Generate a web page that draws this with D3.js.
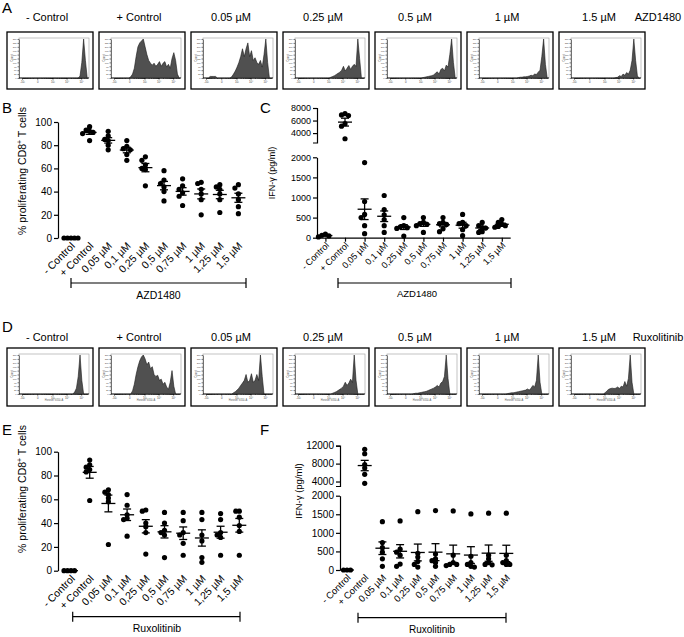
<!DOCTYPE html>
<html><head><meta charset="utf-8">
<script src="https://cdn.jsdelivr.net/npm/d3@7"></script>
<style>
body{margin:0;background:#fff}
svg{display:block}
text{font-family:"Liberation Sans",Arial,Helvetica,sans-serif;fill:#000}
</style>
</head><body>
<svg id="fig" width="684" height="637"></svg>
<script>
// ---------------- DATA ----------------
const histTitles = ["- Control","+ Control","0.05 µM","0.25 µM","0.5 µM","1 µM","1.5 µM"];
// histogram heights (% of max count), 40 samples across the CellTrace axis
const histAZD = [
 [0,0,0,0,0,0,0,0,0,0, 0,0,0,0,0,0,0,0,0,0, 0,0,0,0,0,0,0,0,0,0, 0,0,0,0,5,40,100,45,0,0],
 [0,0,0,0,0,0,0,0,0,0, 0,3,10,25,55,80,90,95,100,80, 60,45,38,33,38,30,35,42,30,38, 42,28,35,25,50,65,45,10,0,0],
 [0,0,0,0,4,4,4,4,0,0, 0,0,0,0,0,0,3,10,18,28, 40,55,75,55,75,90,55,70,45,52, 40,35,45,28,60,100,40,0,0,0],
 [0,0,0,0,0,0,0,0,0,0, 0,0,0,0,0,0,0,0,0,0, 2,4,6,9,12,15,20,30,18,25, 32,22,30,35,30,100,50,0,0,0],
 [0,0,0,0,0,0,0,0,0,0, 0,0,0,0,0,0,0,0,0,0, 1,2,3,4,5,6,8,12,16,10, 22,25,18,33,28,60,100,40,0,0],
 [0,0,0,0,0,0,0,0,0,0, 0,0,0,0,0,0,0,0,0,0, 0,0,1,2,2,3,3,4,5,7, 6,10,9,15,20,55,100,35,0,0],
 [0,0,0,0,0,0,0,0,0,0, 0,0,0,0,0,0,0,0,0,0, 0,0,0,0,0,1,2,6,4,10, 7,14,10,20,45,100,45,5,0,0]
];
const histRux = [
 [0,0,0,0,0,0,0,0,0,0, 0,0,0,0,0,0,0,0,0,0, 0,0,0,0,0,0,0,0,0,0, 0,5,15,45,100,35,0,0,0,0],
 [0,0,0,0,0,0,0,0,0,0, 0,0,8,25,50,70,85,95,100,90, 75,82,65,70,50,45,48,35,38,25, 30,18,12,30,60,20,0,0,0,0],
 [0,0,0,0,0,0,0,0,0,0, 0,0,0,0,0,0,0,3,6,10, 15,22,28,35,50,30,35,52,30,35, 50,35,100,45,0,0,0,0,0,0],
 [0,0,0,0,0,0,0,0,0,0, 0,0,0,0,0,0,0,0,0,0, 0,2,4,6,9,12,15,20,30,22, 28,38,30,100,35,0,0,0,0,0],
 [0,0,0,0,0,0,0,0,0,0, 0,0,0,0,0,1,2,2,3,4, 5,6,7,9,11,13,15,18,22,18, 28,32,45,100,40,0,0,0,0,0],
 [0,0,0,0,0,0,0,0,0,0, 0,0,0,0,0,0,1,2,3,3, 4,5,6,7,8,9,10,13,10,15, 22,18,35,100,30,0,0,0,0,0],
 [0,0,0,0,0,0,0,0,0,0, 0,0,0,0,0,0,0,0,0,3, 8,12,14,15,14,15,18,14,20,18, 32,20,40,100,30,0,0,0,0,0]
];
const categories = ["- Control","+ Control","0,05 µM","0,1 µM","0,25 µM","0,5 µM","0,75 µM","1 µM","1,25 µM","1,5 µM"];
const azdProlif = [
 [0,0,0,0,0],
 [96,93,92,91,90,84],
 [92,88,85,84,80,76],
 [84,79,77,76,72,67],
 [70,67,63,60,59,45],
 [58,50,47,44,40,32],
 [51,45,42,39,36,28],
 [48,47,42,38,33,20],
 [46,44,42,38,33,22],
 [46,43,38,33,27,21]
];
const azdIFN = [
 [90,60,45,20],
 [7100,6900,6800,5500,5100,3100],
 [1870,900,580,500,300,100],
 [1050,700,570,450,300,130],
 [500,300,270,250,230,40],
 [500,380,350,330,300,130],
 [500,380,350,330,220,150],
 [580,380,350,300,200,50],
 [380,300,250,240,150,130],
 [450,380,330,300,280,260]
];
const ruxProlif = [
 [0,0,0,0],
 [93,89,87,85,83,59],
 [68,66,64,61,58,22],
 [64,55,47,44,43,29],
 [51,50,40,37,32,14],
 [49,40,34,32,30,11],
 [49,42,32,30,23,13],
 [49,43,30,25,11,7],
 [48,43,32,30,28,13],
 [50,50,45,38,33,13]
];
const ruxIFN = [
 [0,0,0],
 [11200,10200,7800,7000,5600,3600],
 [1300,740,600,480,300,100],
 [1320,560,480,400,160,100],
 [1570,450,350,230,150,80],
 [1600,430,300,250,200,100],
 [1590,400,200,150,150,120],
 [1510,370,200,150,100,80],
 [1530,400,300,200,150,140],
 [1530,400,250,200,150,150]
];
const prolifTicks = [0,20,40,60,80,100];
const ifnLowTicks = [0,500,1000,1500,2000];
const azdIfnHighTicks = [4000,6000,8000];
const ruxIfnHighTicks = [4000,8000,12000];

// ---------------- DRAW ----------------
const svg = d3.select("#fig");

function letter(t,x,y){ svg.append("text").attr("x",x).attr("y",y).attr("font-size",15).text(t); }
letter("A",2,13); letter("B",2,113); letter("C",260,113);
letter("D",2,332); letter("E",2,435); letter("F",260,435);

function drawHistRow(hists, drug, titleBase, boxTop, boxH, xTitle){
  const g = svg.append("g");
  hists.forEach((h,i)=>{
    const bx = 7 + i*92, by = boxTop, bw = 86;
    const L = bx+12, R = bx+82, T = by+6, B = by+46;
    g.append("text").attr("x", bx+bw/2-3).attr("y", titleBase)
      .attr("text-anchor","middle").attr("font-size",11).text(histTitles[i]);
    g.append("rect").attr("x",bx).attr("y",by).attr("width",bw).attr("height",boxH)
      .attr("fill","none").attr("stroke","#000").attr("stroke-width",1.3);
    g.append("rect").attr("x",L).attr("y",T).attr("width",R-L).attr("height",B-T)
      .attr("fill","none").attr("stroke","#aaa").attr("stroke-width",0.7);
    const hx = d3.scaleLinear().domain([0,h.length-1]).range([L,R]);
    const hy = d3.scaleLinear().domain([0,100]).range([B,T+1]);
    g.append("path").datum(h)
      .attr("d", d3.area().x((d,j)=>hx(j)).y0(B).y1(d=>hy(d)))
      .attr("fill","#505050").attr("stroke","#1a1a1a").attr("stroke-width",0.6);
    // tiny left axis
    const ya = g.append("g").attr("transform",`translate(${L},0)`)
      .call(d3.axisLeft(hy).ticks(10).tickSize(1.5).tickSizeOuter(0).tickPadding(0.8).tickFormat(d=>d*2.5));
    ya.selectAll("path,line").attr("stroke","#000").attr("stroke-width",0.5);
    ya.selectAll("text").attr("font-size",2.4).style("fill","#555");
    g.append("text").attr("transform",`translate(${bx+6},${(T+B)/2}) rotate(-90)`)
      .attr("text-anchor","middle").attr("font-size",2.6).style("fill","#555").text("Count");
    // tiny bottom axis (symlog CellTrace scale)
    const sx = d3.scaleSymlog().constant(100).domain([-1000,250000]).range([L+3,R-2]);
    const minor = [].concat(d3.range(-900,0,100), d3.range(100,1000,100), d3.range(1000,10000,1000), d3.range(10000,100000,10000), d3.range(100000,250001,50000));
    const xa = g.append("g").attr("transform",`translate(0,${B})`)
      .call(d3.axisBottom(sx).tickValues(minor).tickSize(0.9).tickSizeOuter(0).tickFormat(""));
    xa.selectAll("path,line").attr("stroke","#000").attr("stroke-width",0.5);
    const majors = [-1000,0,1000,10000,100000];
    const majLab = ["-10³","0","10³","10⁴","10⁵"];
    const xa2 = g.append("g").attr("transform",`translate(0,${B})`)
      .call(d3.axisBottom(sx).tickValues(majors).tickSize(1.8).tickPadding(0.8).tickFormat((d,k)=>majLab[k]));
    xa2.select("path").remove();
    xa2.selectAll("line").attr("stroke","#000").attr("stroke-width",0.5);
    xa2.selectAll("text").attr("font-size",2.8).style("fill","#444");
    if (xTitle){
      g.append("text").attr("x",(L+R)/2).attr("y",B+7).attr("text-anchor","middle")
        .attr("font-size",2.6).style("fill","#555").text(xTitle);
    }
  });
  g.append("text").attr("x",658).attr("y",titleBase).attr("text-anchor","middle").attr("font-size",11).text(drug);
}
drawHistRow(histAZD, "AZD1480", 21, 32, 57, null);
drawHistRow(histRux, "Ruxolitinib", 341, 348, 58, "Horizon V450-A");

function scatterPanel(o){
  const g = svg.append("g");
  const n = categories.length;
  const pad = (o.xFirst - o.axisX)/o.step;
  const axisRight = o.axisX + o.step*(n-1+2*pad);
  const xs = d3.scalePoint().domain(categories).range([o.axisX, axisRight]).padding(pad);
  const segs = o.segs.map(s=>({...s, scale:d3.scaleLinear().domain(s.domain).range(s.range)}));
  const yv = v => (segs.length>1 && v > segs[0].domain[1]) ? segs[1].scale(v) : segs[0].scale(v);
  const y0 = segs[0].scale(0);

  segs.forEach((s,k)=>{
    const ax = g.append("g").attr("transform",`translate(${o.axisX},0)`)
      .call(d3.axisLeft(s.scale).tickValues(s.ticks).tickSize(4).tickSizeOuter(k>0?4:0).tickPadding(2).tickFormat(d3.format("d")));
    ax.selectAll("path,line").attr("stroke","#000").attr("stroke-width",1.2);
    ax.selectAll("text").attr("font-size",o.tickFont).style("font-family",'"Liberation Sans",Arial,sans-serif');
  });

  if (o.xAxisLine){
    const xa = g.append("g").attr("transform",`translate(0,${y0})`)
      .call(d3.axisBottom(xs).tickSize(4).tickSizeOuter(0).tickFormat(""));
    xa.selectAll("path,line").attr("stroke","#000").attr("stroke-width",1.2);
  }

  categories.forEach(c=>{
    g.append("text").attr("transform",`translate(${xs(c)+2},${y0+6}) rotate(-45)`)
      .attr("text-anchor","end").attr("dy","0.35em").attr("font-size",o.catFont).text(c);
  });

  const r = 2.6, minD = 3.5;
  o.data.forEach((vals,i)=>{
    const cx = xs(categories[i]);
    const placed = [];
    const sorted = vals.slice().sort((a,b)=>b-a);
    sorted.forEach(v=>{
      const cy = yv(v);
      let off = 0;
      const order = [0,-1,1,-2,2,-3,3,-4,4];
      for (const m of order){
        off = m*minD;
        if (placed.every(p=>Math.hypot(p.x-off,p.y-cy) >= minD)) break;
      }
      placed.push({x:off,y:cy});
    });
    g.selectAll(null).data(placed).enter().append("circle")
      .attr("cx",p=>cx+p.x).attr("cy",p=>p.y).attr("r",r).attr("fill","#000");
    const m = d3.mean(vals);
    const sem = vals.length>1 ? d3.deviation(vals)/Math.sqrt(vals.length) : 0;
    const ln = (x1,y1,x2,y2)=>g.append("line").attr("x1",x1).attr("y1",y1).attr("x2",x2).attr("y2",y2)
      .attr("stroke","#000").attr("stroke-width",1.3);
    ln(cx-7,yv(m),cx+7,yv(m));
    if (sem>0){
      ln(cx,yv(m-sem),cx,yv(m+sem));
      ln(cx-4,yv(m+sem),cx+4,yv(m+sem));
      ln(cx-4,yv(m-sem),cx+4,yv(m-sem));
    }
  });

  const t = g.append("text").attr("transform",`translate(${o.yLabelX},${o.yLabelY}) rotate(-90)`)
    .attr("text-anchor","middle").attr("font-size",o.yLabelFont);
  o.yLabel.forEach(part=>{
    const ts = t.append("tspan").text(part.t);
    if (part.sup){ ts.attr("font-size",o.yLabelFont*0.65).attr("dy",-4); }
    else if (part.after){ ts.attr("dy",4); }
  });

  const b = o.bracket;
  const bl = (x1,y1,x2,y2)=>g.append("line").attr("x1",x1).attr("y1",y1).attr("x2",x2).attr("y2",y2)
      .attr("stroke","#000").attr("stroke-width",1.2);
  bl(b.x1,b.y,b.x2,b.y); bl(b.x1,b.y-5,b.x1,b.y+5); bl(b.x2,b.y-5,b.x2,b.y+5);
  g.append("text").attr("x",b.tx).attr("y",b.ty).attr("text-anchor","middle").attr("font-size",b.font).text(b.text);
}

const prolifLabel = [{t:"% proliferating CD8"},{t:"+",sup:true},{t:" T cells",after:true}];
const ifnLabel = [{t:"IFN-γ (pg/ml)"}];

scatterPanel({data:azdProlif, axisX:58, xFirst:71, step:18.6,
  segs:[{domain:[0,100],range:[238,122],ticks:prolifTicks}],
  tickFont:10, catFont:10.5, yLabel:prolifLabel, yLabelX:26, yLabelY:171, yLabelFont:10.5,
  bracket:{x1:71,x2:246,y:283,text:"AZD1480",tx:158.5,ty:299,font:10.5}});

scatterPanel({data:azdIFN, axisX:317, xFirst:325.4, step:19.6, xAxisLine:true,
  segs:[{domain:[0,2000],range:[237.7,157.3],ticks:ifnLowTicks},
        {domain:[2500,8000],range:[142.5,108],ticks:azdIfnHighTicks}],
  tickFont:9, catFont:9, yLabel:ifnLabel, yLabelX:275, yLabelY:173, yLabelFont:9,
  bracket:{x1:338,x2:511,y:283,text:"AZD1480",tx:417,ty:297,font:9.5}});

scatterPanel({data:ruxProlif, axisX:58, xFirst:71, step:18.7,
  segs:[{domain:[0,100],range:[570.7,451.7],ticks:prolifTicks}],
  tickFont:10, catFont:10.5, yLabel:prolifLabel, yLabelX:26, yLabelY:489, yLabelFont:10.5,
  bracket:{x1:72.7,x2:240,y:616.7,text:"Ruxolitinib",tx:157,ty:632,font:10.5}});

scatterPanel({data:ruxIFN, axisX:340, xFirst:347, step:17.7,
  segs:[{domain:[0,2000],range:[570,495.7],ticks:ifnLowTicks},
        {domain:[3000,12000],range:[486,445.7],ticks:ruxIfnHighTicks}],
  tickFont:10, catFont:9.5, yLabel:ifnLabel, yLabelX:302, yLabelY:491, yLabelFont:9.5,
  bracket:{x1:358,x2:506,y:617.7,text:"Ruxolitinib",tx:432,ty:633,font:10}});
</script>
</body></html>
